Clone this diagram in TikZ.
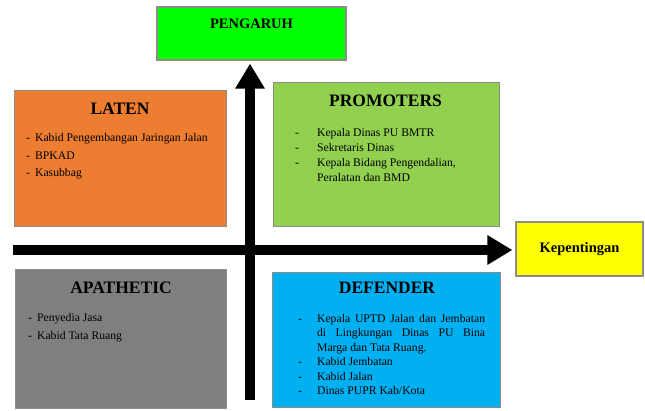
\documentclass[tikz,border=0pt]{standalone}
\usepackage{fontspec}
\setmainfont{Liberation Serif}
\usetikzlibrary{arrows.meta}

\definecolor{latenfill}{HTML}{ED7D31}
\definecolor{promofill}{HTML}{92D050}
\definecolor{apafill}{HTML}{7F7F7F}
\definecolor{deffill}{HTML}{00B0F0}
\definecolor{pengfill}{HTML}{00FF00}
\definecolor{kepfill}{HTML}{FFFF00}

% dash list: gap after dash, line spacing, rows
\newcommand{\dashlist}[3]{{\fontsize{11.7}{#2}\selectfont
  \begin{tabular}[t]{@{}l@{\hspace{#1}}l@{}}#3\end{tabular}}}

\tikzset{
  quad/.style={draw=black!45, line width=1.2pt, anchor=south west, inner sep=0pt},
  axislabel/.style={draw=black!45, line width=1.2pt, font=\bfseries\fontsize{14.5}{16}\selectfont},
  title/.style={font=\bfseries\fontsize{17.5}{20}\selectfont, anchor=base, inner sep=0pt},
  members/.style={anchor=base west, inner sep=0pt},
  axis/.style={line width=10pt, -{Triangle[length=25pt,width=28pt]}, shorten >=3pt}
}

\begin{document}
\begin{tikzpicture}[x=1pt,y=1pt]
        \useasboundingbox (0,0) rectangle (645,410);

        % axis labels
        \node[axislabel, fill=pengfill, minimum width=189pt, minimum height=53pt,
              text height=10pt, text depth=19pt] (pengaruh) at (251.5,376.5) {PENGARUH};
        \node[axislabel, fill=kepfill, minimum width=127pt, minimum height=54pt] (kepentingan) at (579.5,161) {Kepentingan};

        % quadrants
        \node[quad, fill=latenfill, minimum width=212pt, minimum height=136pt] (laten) at (14,183) {};
        \node[quad, fill=promofill, minimum width=226pt, minimum height=144pt] (promoters) at (273,183) {};
        \node[quad, fill=apafill, minimum width=211pt, minimum height=139pt] (apathetic) at (15,1) {};
        \node[quad, fill=deffill, minimum width=228pt, minimum height=135pt] (defender) at (272,2) {};

        \node[title] (latentitle) at (120,295.2) {LATEN};
        \node[title] (promotitle) at (385.5,303.2) {PROMOTERS};
        \node[title] (apatitle) at (121,116.2) {APATHETIC};
        \node[title] (deftitle) at (387,116.2) {DEFENDER};

        \node[members] (latenlist) at (26,268) {\dashlist{5pt}{17.5pt}{
            - & Kabid Pengembangan Jaringan Jalan\\
            - & BPKAD\\
            - & Kasubbag}};
        \node[members] (promolist) at (295,273) {\dashlist{18pt}{14.7pt}{
            - & Kepala Dinas PU BMTR\\
            - & Sekretaris Dinas\\
            - & Kepala Bidang Pengendalian,\\
              & Peralatan dan BMD}};
        \node[members] (apalist) at (28,89) {\dashlist{5pt}{18pt}{
            - & Penyedia Jasa\\
            - & Kabid Tata Ruang}};
        \node[members] (deflist) at (298,88) {{\fontsize{11.7}{14.5}\selectfont
          \begin{tabular}[t]{@{}l@{\hspace{15pt}}p{168pt}@{}}
            - & \hyphenpenalty=10000 Kepala UPTD Jalan dan Jembatan\linebreak
                di Lingkungan Dinas PU Bina\linebreak Marga dan Tata Ruang.\\
            - & Kabid Jembatan\\
            - & Kabid Jalan\\
            - & Dinas PUPR Kab/Kota
          \end{tabular}}};

        % axes
        \coordinate (vbase) at (250,10);
        \coordinate (hbase) at (13,160);
        \draw[axis] (vbase) -- (vbase |- pengaruh.south);
        \draw[axis] (hbase) -- (hbase -| kepentingan.west);
    \end{tikzpicture}
\end{document}
